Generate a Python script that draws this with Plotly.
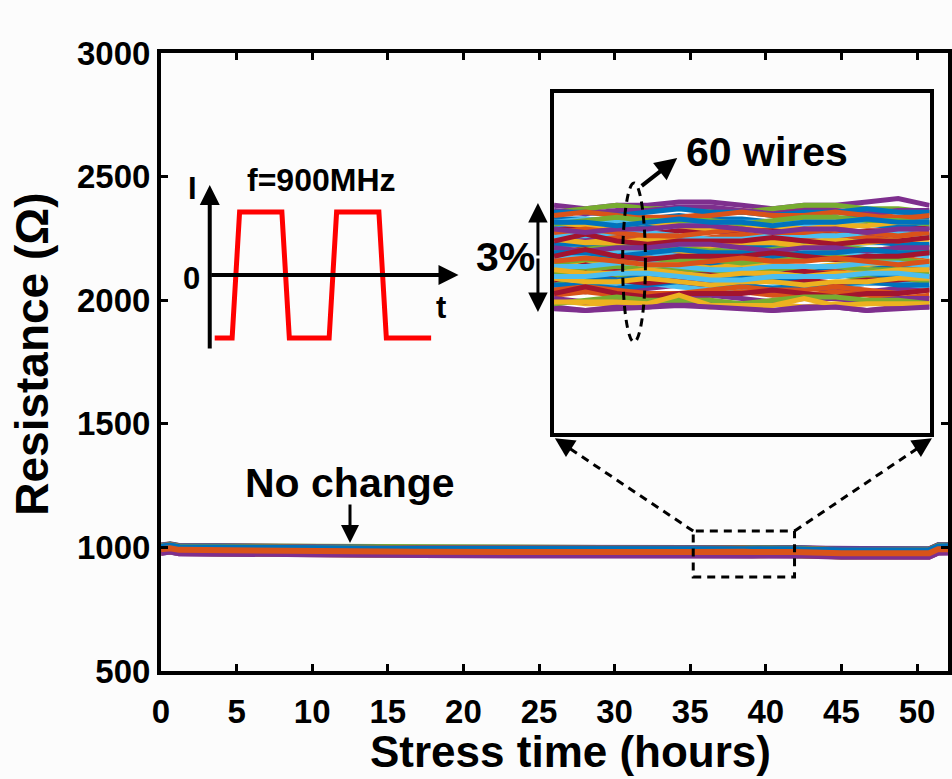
import plotly.graph_objects as go

# ---------------- data ----------------
x_ticks = [0, 5, 10, 15, 20, 25, 30, 35, 40, 45, 50]
y_ticks = [500, 1000, 1500, 2000, 2500, 3000]

t_start = [0, 0.6, 1.2, 17]
t_zoom = [35.2, 35.76, 36.32, 36.87, 37.43, 37.99, 38.55, 39.1, 39.66, 40.22, 40.78, 41.34, 41.9]
t_end = [45, 50.8, 51.4, 52.1]

r_start = [
    [1004, 1009, 1002, 995], [1006, 1010, 1004, 997], [998, 1003, 996, 989], [1008, 1013, 1006, 999],
    [991, 996, 989, 982], [996, 1001, 994, 987], [993, 998, 992, 985], [990, 994, 987, 980],
    [993, 997, 990, 983], [979, 984, 977, 970], [999, 1005, 997, 991], [1007, 1012, 1005, 998],
    [1003, 1008, 1001, 994], [985, 990, 983, 976], [1002, 1006, 1000, 992], [987, 993, 985, 979],
    [995, 999, 993, 985], [983, 989, 981, 975], [987, 991, 985, 977], [984, 989, 982, 975],
    [1000, 1006, 998, 992], [997, 1001, 995, 987], [981, 987, 980, 972], [991, 995, 988, 982],
    [978, 983, 976, 969], [995, 1000, 993, 986], [1003, 1007, 1001, 993], [988, 994, 986, 980],
    [985, 989, 983, 975], [998, 1004, 996, 990], [997, 1002, 995, 988], [1007, 1011, 1005, 997],
    [989, 994, 987, 980], [993, 998, 991, 984], [986, 991, 984, 977], [1006, 1011, 1004, 997],
    [983, 988, 981, 974], [1002, 1007, 1000, 993], [981, 985, 979, 971], [992, 997, 990, 983],
    [999, 1004, 997, 990], [997, 1003, 995, 989], [987, 992, 985, 978], [1005, 1010, 1003, 996],
    [986, 990, 984, 976], [995, 1001, 993, 987], [1004, 1008, 1002, 994], [990, 995, 988, 981],
    [982, 987, 980, 973], [994, 999, 992, 985], [1000, 1005, 998, 991], [988, 993, 986, 979],
    [1001, 1006, 999, 992], [980, 985, 978, 971], [987, 992, 985, 978], [993, 998, 991, 984],
    [1003, 1008, 1001, 994], [992, 996, 990, 982], [980, 984, 978, 970], [978, 983, 976, 969],
]

r_zoom = [
    [994, 994, 993, 994, 995, 994, 994, 993, 996, 994, 995, 994, 994],
    [995.5, 996.5, 995.5, 994.5, 994.5, 995.5, 996.5, 995.5, 997.5, 996.5, 995.5, 994.5, 995.5],
    [989, 988, 988, 989, 988, 987, 988, 988, 987, 988, 988, 989, 989],
    [998, 997, 998, 998, 999, 999, 998, 997, 998, 998, 999, 1000, 998],
    [980, 981, 982, 981, 981, 981, 980, 981, 982, 982, 981, 981, 980],
    [986, 986, 987, 987, 986, 985, 985, 986, 986, 986, 987, 987, 986],
    [983.5, 985.5, 983.5, 982.5, 983.5, 983.5, 983.5, 984.5, 983.5, 982.5, 983.5, 983.5, 984.5],
    [979.5, 980.5, 979.5, 978.5, 979.5, 980.5, 979.5, 979.5, 978.5, 979.5, 980.5, 979.5, 979.5],
    [982.5, 982.5, 983.5, 982.5, 981.5, 981.5, 982.5, 983.5, 982.5, 982.5, 983.5, 982.5, 981.5],
    [970, 969, 969, 970, 969, 968, 969, 969, 968, 969, 969, 970, 970],
    [989.5, 988.5, 989.5, 989.5, 990.5, 990.5, 989.5, 988.5, 989.5, 989.5, 988.5, 989.5, 989.5],
    [996, 997, 998, 997, 997, 997, 996, 997, 998, 998, 997, 997, 996],
    [993, 994, 993, 992, 992, 993, 993, 993, 994, 994, 993, 993, 993],
    [975, 977, 975, 974, 975, 975, 975, 976, 975, 974, 975, 975, 976],
    [991.5, 991.5, 990.5, 991.5, 992.5, 991.5, 991.5, 990.5, 991.5, 991.5, 992.5, 991.5, 991.5],
    [977.5, 978.5, 977.5, 976.5, 976.5, 977.5, 978.5, 977.5, 977.5, 978.5, 977.5, 976.5, 977.5],
    [985.5, 984.5, 984.5, 985.5, 984.5, 983.5, 984.5, 984.5, 983.5, 984.5, 984.5, 985.5, 985.5],
    [973.5, 972.5, 973.5, 973.5, 974.5, 974.5, 973.5, 972.5, 973.5, 973.5, 972.5, 973.5, 973.5],
    [975.5, 976.5, 977.5, 976.5, 976.5, 976.5, 975.5, 976.5, 977.5, 977.5, 976.5, 976.5, 975.5],
    [974, 974, 975, 975, 974, 973, 973, 974, 974, 974, 975, 975, 974],
    [990.5, 992.5, 990.5, 989.5, 990.5, 990.5, 990.5, 991.5, 990.5, 989.5, 990.5, 990.5, 991.5],
    [986.5, 986.5, 985.5, 986.5, 987.5, 986.5, 986.5, 985.5, 986.5, 986.5, 987.5, 986.5, 986.5],
    [971.5, 972.5, 971.5, 970.5, 970.5, 971.5, 972.5, 971.5, 971.5, 972.5, 971.5, 970.5, 971.5],
    [981.5, 980.5, 980.5, 981.5, 980.5, 979.5, 980.5, 980.5, 979.5, 980.5, 980.5, 981.5, 981.5],
    [968, 967, 968, 968, 969, 969, 968, 967, 968, 968, 967, 968, 968],
    [984, 985, 986, 985, 985, 985, 984, 985, 986, 986, 985, 985, 984],
    [992.5, 992.5, 993.5, 993.5, 992.5, 991.5, 991.5, 992.5, 992.5, 992.5, 993.5, 993.5, 992.5],
    [978.5, 980.5, 978.5, 977.5, 978.5, 978.5, 978.5, 979.5, 978.5, 977.5, 978.5, 978.5, 979.5],
    [974.5, 974.5, 973.5, 974.5, 975.5, 974.5, 974.5, 973.5, 974.5, 974.5, 975.5, 974.5, 974.5],
    [988.5, 989.5, 988.5, 987.5, 987.5, 988.5, 989.5, 988.5, 988.5, 989.5, 988.5, 987.5, 988.5],
    [988, 987, 987, 988, 987, 986, 987, 987, 986, 987, 987, 988, 988],
    [996.5, 995.5, 996.5, 996.5, 997.5, 997.5, 996.5, 995.5, 996.5, 996.5, 995.5, 996.5, 996.5],
    [978, 979, 980, 979, 979, 979, 978, 979, 980, 980, 979, 979, 978],
    [983, 983, 984, 984, 983, 982, 982, 983, 983, 983, 984, 984, 983],
    [976, 978, 976, 975, 976, 976, 976, 977, 976, 975, 976, 976, 977],
    [996, 996, 995, 996, 997, 996, 996, 995, 996, 996, 997, 996, 996],
    [973, 974, 973, 972, 972, 973, 974, 973, 973, 974, 973, 972, 973],
    [993, 992, 992, 993, 992, 991, 992, 992, 991, 992, 992, 993, 993],
    [970.5, 969.5, 970.5, 970.5, 971.5, 971.5, 970.5, 969.5, 970.5, 970.5, 969.5, 970.5, 970.5],
    [981, 982, 983, 982, 982, 982, 981, 982, 983, 983, 982, 982, 981],
    [989, 989, 990, 990, 989, 988, 988, 989, 989, 989, 990, 990, 989],
    [987.5, 989.5, 987.5, 986.5, 987.5, 987.5, 987.5, 988.5, 987.5, 986.5, 987.5, 987.5, 988.5],
    [977, 977, 976, 977, 978, 977, 977, 976, 977, 977, 978, 977, 977],
    [995, 996, 995, 994, 994, 995, 996, 995, 995, 996, 995, 994, 995],
    [976.5, 975.5, 975.5, 976.5, 975.5, 974.5, 975.5, 975.5, 974.5, 975.5, 975.5, 976.5, 976.5],
    [985.5, 984.5, 985.5, 985.5, 986.5, 986.5, 985.5, 984.5, 985.5, 985.5, 984.5, 985.5, 985.5],
    [992.5, 993.5, 994.5, 993.5, 993.5, 993.5, 992.5, 993.5, 994.5, 994.5, 993.5, 993.5, 992.5],
    [980, 980, 981, 981, 980, 979, 979, 980, 980, 980, 981, 981, 980],
    [972, 974, 972, 971, 972, 972, 972, 973, 972, 971, 972, 972, 973],
    [984, 984, 983, 984, 985, 984, 984, 983, 984, 984, 985, 984, 984],
    [990, 991, 990, 989, 989, 990, 991, 990, 990, 991, 990, 989, 990],
    [979, 978, 978, 979, 978, 977, 978, 978, 977, 978, 978, 979, 979],
    [991, 990, 991, 991, 992, 992, 991, 990, 991, 991, 990, 991, 991],
    [969, 970, 971, 970, 970, 970, 969, 970, 971, 971, 970, 970, 969],
    [977, 977, 978, 978, 977, 976, 976, 977, 977, 977, 978, 978, 977],
    [983, 985, 983, 982, 983, 983, 983, 984, 983, 982, 983, 983, 984],
    [993, 993, 992, 993, 994, 993, 993, 992, 993, 993, 994, 993, 993],
    [981.5, 982.5, 981.5, 980.5, 980.5, 981.5, 982.5, 981.5, 981.5, 982.5, 981.5, 980.5, 981.5],
    [969.5, 969.5, 969.5, 969, 971.5, 968.5, 968.5, 968.5, 970.5, 968.5, 969, 969, 969],
    [967.5, 967, 967.5, 968, 968.5, 968, 967.5, 967, 967.5, 968, 967, 967.5, 968],
]

r_end = [
    [988, 989, 1005, 1006], [990, 990, 1007, 1007], [982, 983, 999, 1000], [992, 993, 1009, 1010],
    [975, 976, 992, 993], [980, 981, 997, 998], [977, 978, 995, 995], [974, 974, 991, 992],
    [976, 978, 993, 994], [963, 964, 980, 981], [983, 984, 1001, 1001], [991, 992, 1008, 1009],
    [987, 988, 1004, 1005], [969, 970, 986, 987], [986, 986, 1003, 1003], [971, 973, 989, 990],
    [979, 979, 996, 996], [968, 968, 985, 985], [970, 972, 987, 989], [968, 969, 985, 986],
    [984, 986, 1002, 1002], [981, 981, 998, 998], [965, 967, 983, 984], [974, 976, 992, 992],
    [962, 963, 979, 980], [979, 980, 996, 997], [987, 987, 1004, 1004], [972, 974, 990, 990],
    [969, 969, 986, 986], [982, 984, 1000, 1001], [981, 982, 998, 999], [991, 991, 1008, 1008],
    [973, 974, 990, 991], [977, 978, 994, 995], [970, 971, 987, 988], [990, 991, 1007, 1008],
    [967, 968, 984, 985], [986, 987, 1003, 1004], [965, 965, 982, 982], [976, 977, 993, 994],
    [983, 984, 1000, 1001], [981, 983, 999, 999], [971, 972, 988, 989], [989, 990, 1006, 1007],
    [970, 970, 987, 987], [979, 981, 997, 997], [988, 988, 1005, 1005], [974, 975, 991, 992],
    [966, 967, 983, 984], [978, 979, 995, 996], [984, 985, 1001, 1002], [972, 973, 989, 990],
    [985, 986, 1002, 1003], [964, 965, 981, 982], [971, 972, 988, 989], [977, 978, 994, 995],
    [987, 988, 1004, 1005], [976, 976, 993, 993], [964, 964, 981, 981], [962, 962, 979, 979],
]

# schematic of the stress current (arbitrary units)
wave_t = [0.2, 0.9, 1.2, 2.9, 3.2, 4.8, 5.1, 6.8, 7.1, 8.9]
wave_i = [-1, -1, 1, 1, -1, -1, 1, 1, -1, -1]

colors = ['#0072BD', '#D95319', '#EDB120', '#7E2F8E', '#77AC30', '#4DBEEE', '#A2142F']

FONT = "Liberation Sans, Arial, Helvetica, sans-serif"

fig = go.Figure()

t_all = t_start + t_zoom + t_end
n_wires = len(r_zoom)
main_order = list(range(n_wires - 3)) + [n_wires - 2, n_wires - 1, n_wires - 3]
for i in main_order:
    c = colors[i % len(colors)]
    fig.add_trace(go.Scatter(x=t_all, y=r_start[i] + r_zoom[i] + r_end[i], mode='lines',
                             line=dict(color=c, width=6), xaxis='x', yaxis='y',
                             showlegend=False, hoverinfo='skip'))
for i in range(n_wires):
    c = colors[i % len(colors)]
    fig.add_trace(go.Scatter(x=t_zoom, y=r_zoom[i], mode='lines',
                             line=dict(color=c, width=5), xaxis='x2', yaxis='y2',
                             showlegend=False, hoverinfo='skip'))

fig.add_trace(go.Scatter(x=wave_t, y=wave_i, mode='lines', line=dict(color='#FF0000', width=5),
                         xaxis='x3', yaxis='y3', showlegend=False, hoverinfo='skip'))

axis_common = dict(showgrid=False, zeroline=False, linecolor='black', linewidth=4,
                   ticks='inside', ticklen=7, tickwidth=3, tickcolor='black', mirror='ticks',
                   tickfont=dict(family=FONT, size=33, color='black', weight='bold'))

fig.update_layout(
    width=952, height=779,
    margin=dict(l=161, r=0, t=53, b=108),
    paper_bgcolor='#FCFCFC', plot_bgcolor='#FCFCFC',
    xaxis=dict(range=[0, 52.05], tickvals=x_ticks, ticklabelstandoff=8, **axis_common),
    yaxis=dict(range=[500, 3000], tickvals=y_ticks, **axis_common),
    xaxis2=dict(domain=[0.4994, 0.9766], anchor='y2', range=[35.2, 41.9], showgrid=False,
                zeroline=False, showline=True, linecolor='black', linewidth=4, mirror=True,
                showticklabels=False, ticks=''),
    yaxis2=dict(domain=[0.3859, 0.9345], anchor='x2', range=[931, 1031], showgrid=False,
                zeroline=False, showline=True, linecolor='black', linewidth=4, mirror=True,
                showticklabels=False, ticks=''),
    xaxis3=dict(domain=[0.024, 0.378], anchor='y3', range=[-1.2, 10], visible=False),
    yaxis3=dict(domain=[0.5194, 0.8141], anchor='x3', range=[-1.19, 1.7], visible=False),
)

bold = dict(family=FONT, color='black', weight='bold')

annotations = [
    # axis titles
    dict(text='Stress time (hours)', xref='paper', yref='paper', x=0.52, y=-0.13,
         showarrow=False, font=dict(size=44, **bold), xanchor='center', yanchor='middle'),
    dict(text='Resistance (Ω)', xref='paper', yref='paper', x=-0.165, y=0.512, textangle=-90,
         showarrow=False, font=dict(size=46, **bold), xanchor='center', yanchor='middle'),
    # no change
    dict(text='No change', xref='x', yref='y', x=12.5, y=1260, showarrow=False,
         font=dict(size=41, **bold)),
    dict(text='', xref='x', yref='y', x=12.5, y=1018, ax=0, ay=-40, showarrow=True,
         arrowhead=2, arrowsize=1.2, arrowwidth=3, arrowcolor='black', standoff=0, startstandoff=0),
    # 60 wires
    dict(text='60 wires', xref='x', yref='y', x=40.07, y=2600, showarrow=False,
         font=dict(size=41, **bold)),
    dict(text='', xref='x', yref='y', x=34.14, y=2575, ax=-37, ay=29, showarrow=True,
         arrowhead=2, arrowsize=1.1, arrowwidth=4, arrowcolor='black', standoff=0, startstandoff=0),
    # 3%
    dict(text='3%', xref='x', yref='y', x=22.76, y=2175, showarrow=False,
         font=dict(size=41, **bold)),
    dict(text='', xref='x', yref='y', x=24.93, y=2393, ax=0, ay=54, showarrow=True,
         arrowhead=2, arrowsize=1.3, arrowwidth=3, arrowcolor='black', standoff=0, startstandoff=0),
    dict(text='', xref='x', yref='y', x=24.93, y=1952, ax=0, ay=-55, showarrow=True,
         arrowhead=2, arrowsize=1.3, arrowwidth=3, arrowcolor='black', standoff=0, startstandoff=0),
    # arrowheads of zoom lines
    dict(text='', xref='x', yref='y', x=26.05, y=1442, ax=17, ay=11, showarrow=True,
         arrowhead=2, arrowsize=1.3, arrowwidth=3, arrowcolor='black', standoff=0, startstandoff=0),
    dict(text='', xref='x', yref='y', x=50.99, y=1442, ax=-17, ay=11, showarrow=True,
         arrowhead=2, arrowsize=1.3, arrowwidth=3, arrowcolor='black', standoff=0, startstandoff=0),
    # schematic
    dict(text='', xref='x3', yref='y3', x=0, y=1.43, axref='x3', ayref='y3', ax=0, ay=-1.19,
         showarrow=True, arrowhead=2, arrowsize=1.0, arrowwidth=4, arrowcolor='black',
         standoff=0, startstandoff=0),
    dict(text='', xref='x3', yref='y3', x=10, y=0, axref='x3', ayref='y3', ax=0, ay=0,
         showarrow=True, arrowhead=2, arrowsize=1.0, arrowwidth=4, arrowcolor='black',
         standoff=0, startstandoff=0),
    dict(text='I', xref='x3', yref='y3', x=-0.68, y=1.38, showarrow=False, font=dict(size=31, **bold)),
    dict(text='0', xref='x3', yref='y3', x=-0.72, y=-0.05, showarrow=False, font=dict(size=31, **bold)),
    dict(text='t', xref='x3', yref='y3', x=9.28, y=-0.52, showarrow=False, font=dict(size=31, **bold)),
    dict(text='f=900MHz', xref='x3', yref='y3', x=4.48, y=1.51, showarrow=False, font=dict(size=32, **bold)),
]
fig.update_layout(annotations=annotations)

dash = '8px,6px'
shapes = [
    dict(type='rect', xref='x', yref='y', x0=35.2, x1=41.9, y0=880, y1=1066,
         line=dict(color='black', width=3, dash=dash)),
    dict(type='line', xref='x', yref='y', x0=35.2, y0=1066, x1=26.64, y1=1416,
         line=dict(color='black', width=3, dash=dash)),
    dict(type='line', xref='x', yref='y', x0=41.9, y0=1066, x1=50.4, y1=1416,
         line=dict(color='black', width=3, dash=dash)),
    dict(type='circle', xref='x', yref='y', x0=30.53, x1=32.04, y0=1831, y1=2474,
         line=dict(color='black', width=3, dash=dash)),
]
fig.update_layout(shapes=shapes)

fig.write_html("out.html")
